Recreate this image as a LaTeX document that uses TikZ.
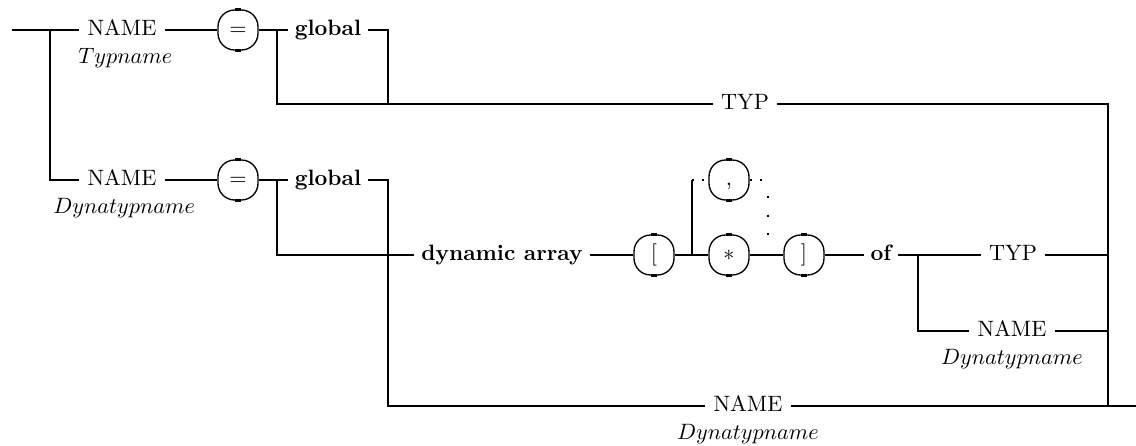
\documentclass[tikz,border=0pt]{standalone}
\usepackage{tikz}
\usetikzlibrary{positioning}
\tikzset{
  rail/.style={line width=1.1pt},
  loop/.style={line width=1pt, dash pattern=on 1pt off 3.5pt},
  loopv/.style={line width=1pt, dash pattern=on 1pt off 7.3pt, dash phase=-7.3pt},
  tok/.style={draw, rectangle, rounded corners=7.5pt, line width=0.6pt, minimum width=18pt,
              minimum height=18pt, inner sep=0pt, text height=6.5pt, text depth=2pt},
  tick/.style={line width=1.3pt},
  kw/.style={font=\bfseries, inner xsep=3pt, inner ysep=1pt, text height=6.5pt, text depth=2pt},
  nt/.style={inner xsep=3.6pt, inner ysep=1pt, text height=6.5pt, text depth=2pt},
  sub/.style={inner xsep=0pt, inner ysep=1pt, text height=6.5pt, text depth=2pt},
}
\begin{document}
\begin{tikzpicture}[x=0.45pt, y=-0.45pt, node distance=1.8pt]
  \useasboundingbox (0,0) rectangle (1136,446);
  % first alternative: type name
  \coordinate (in) at (12,30);
  \node[nt] (tn) at (122,30) {NAME};
  \node[sub, below=of tn, xshift=1.5pt] (tnl) {$Typname$};
  \node[tok] (eqa) at (238,30) {$=$};
  \node[kw] (gla) at (328,30) {global};
  \node[nt] (typa) at (745,104) {TYP};
  % second alternative: dynamic type name
  \node[nt] (dn) at (122,180) {NAME};
  \node[sub, below=of dn, xshift=1pt] (dnl) {$Dynatypname$};
  \node[tok] (eqb) at (238,180) {$=$};
  \node[kw] (glb) at (328,180) {global};
  \node[kw] (dyn) at (502,255) {dynamic array};
  \node[tok] (lbr) at (654,255) {[};
  \node[tok] (com) at (729,180) {,};
  \node[tok] (ast) at (729,255) {$*$};
  \node[tok] (rbr) at (804,255) {]};
  \node[kw] (of) at (881,255) {of};
  \node[nt] (typb) at (1013,255) {TYP};
  \node[nt] (dnb) at (1012,331) {NAME};
  \node[sub, below=of dnb] (dnbl) {$Dynatypname$};
  \node[nt] (dnc) at (748,406) {NAME};
  \node[sub, below=of dnc] (dncl) {$Dynatypname$};
  \coordinate (out) at (1136,406);
  % junctions
  \coordinate (ja) at (50,30);
  \coordinate (jb) at (277,30);
  \coordinate (jc) at (388,104);
  \coordinate (jd) at (1108,406);
  \coordinate (je) at (277,180);
  \coordinate (jf) at (388,406);
  \coordinate (jg) at (692,255);
  \coordinate (jh) at (692,180);
  \coordinate (ji) at (768,180);
  \coordinate (jj) at (768,240);
  \coordinate (jk) at (918,255);
  \coordinate (jl) at (1108,255);
  \coordinate (jm) at (1108,331);

  \draw[rail] (in) -- (tn.west) (tn.east) -- (eqa.west) (eqa.east) -- (gla.west);
  \draw[rail] (gla.east) -| (jc);
  \draw[rail] (jb) |- (typa.west);
  \draw[rail] (typa.east) -| (jd) -- (out);
  \draw[rail] (ja) |- (dn.west);
  \draw[rail] (dn.east) -- (eqb.west) (eqb.east) -- (glb.west);
  \draw[rail] (glb.east) -| (jf) -- (dnc.west);
  \draw[rail] (dnc.east) -- (jd);
  \draw[rail] (je) |- (dyn.west);
  \foreach \a/\b in {dyn/lbr, lbr/ast, ast/rbr, rbr/of, of/typb} \draw[rail] (\a.east) -- (\b.west);
  \draw[rail] (jg) -- (jh);
  \draw[loop] (jh) -- (com.west);
  \draw[loop] (com.east) -- (ji);
  \draw[loopv] (ji) -- (jj);
  \draw[rail] (jk) |- (dnb.west);
  \draw[rail] (typb.east) -- (jl);
  \draw[rail] (dnb.east) -- (jm);
  \foreach \t in {eqa,eqb,lbr,com,ast,rbr}
    \draw[tick] ([xshift=-1.2pt]\t.north) -- ([xshift=1.2pt]\t.north)
                ([xshift=-1.2pt]\t.south) -- ([xshift=1.2pt]\t.south);
\end{tikzpicture}
\end{document}
